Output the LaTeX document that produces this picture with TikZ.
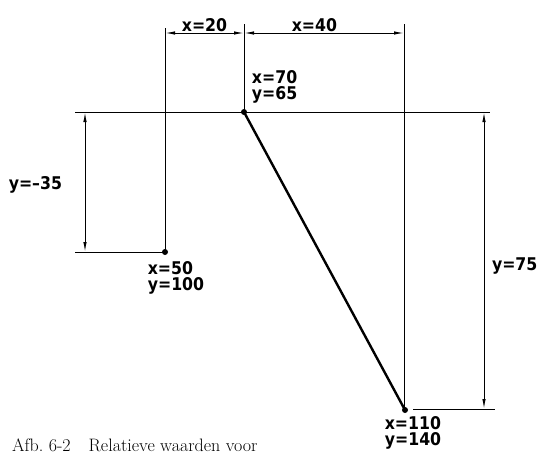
\documentclass[tikz,border=0pt]{standalone}
\usepackage{fontspec}
\setsansfont{DejaVu Sans Condensed}
\usetikzlibrary{arrows.meta,positioning}
\tikzset{
  dim/.style={{Latex[length=10pt,width=3.4pt]}-{Latex[length=10pt,width=3.4pt]},line width=1pt},
  ext/.style={line width=1pt},
  bar/.style={line width=2.4pt,line cap=round},
  lbl/.style={font=\sffamily\bfseries\fontsize{17.5}{15.5}\selectfont,inner sep=0.5pt,align=left},
  dot/.style={circle,fill,inner sep=0pt,minimum size=6pt}
}

\begin{document}
\begin{tikzpicture}[x=1pt,y=-1pt]
\useasboundingbox (0,0) rectangle (537,455);
% de drie punten
\node[dot] (A) at (165,252) {};
\node[dot] (B) at (244,112) {};
\node[dot] (C) at (405,410) {};
% hulplijnen
\coordinate (a1) at (165,28);
\coordinate (b1) at (244,24);
\coordinate (c1) at (404,24);
\coordinate (c0) at (404,410);
\coordinate (hl) at (75,112);
\coordinate (hr) at (490,112);
\coordinate (al) at (75,252);
\coordinate (cr) at (495,409);
\coordinate (cl) at (413,409);
\draw[ext] (a1) -- (A.center);
\draw[ext] (b1) -- (B.center);
\draw[ext] (c1) -- (c0);
\draw[ext] (hl) -- (hr);
\draw[ext] (al) -- (A.center);
\draw[ext] (cl) -- (cr);
% maatlijnen
\coordinate (d1) at (165,33);
\coordinate (d2) at (244,33);
\coordinate (d3) at (404,33);
\coordinate (v1) at (85,112);
\coordinate (v2) at (85,252);
\coordinate (w1) at (484,112);
\coordinate (w2) at (484,409);
\draw[dim] (d1) -- node[lbl,above=0pt] (dx1) {x=20} (d2);
\draw[dim] (d2) -- node[lbl,above=0pt,pos=0.44] (dx2) {x=40} (d3);
\draw[dim] (v1) -- node[lbl,left=22pt,pos=0.52] (dy1) {y=--35} (v2);
\draw[dim] (w1) -- node[lbl,right=7pt,pos=0.52] (dy2) {y=75} (w2);
% de lijn
\draw[bar] (B.center) -- (C.center);
% coordinaten
\node[lbl,above right=6pt and 5pt of B] (tB) {x=70\\y=65};
\node[lbl,below=6pt of A,xshift=11pt] (tA) {x=50\\y=100};
\node[lbl,below=3pt of C,xshift=8pt] (tC) {x=110\\y=140};
% onderschrift
\node[anchor=base west,inner sep=0pt,font=\fontsize{18}{20}\selectfont] (cap) at (12,451) {Afb.~6-2\quad Relatieve waarden voor};
\end{tikzpicture}
\end{document}
